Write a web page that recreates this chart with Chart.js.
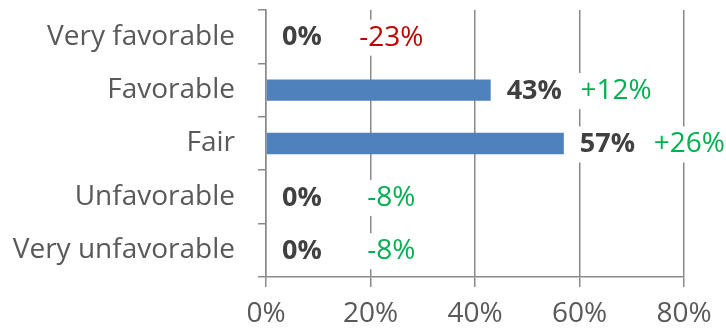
<!DOCTYPE html>
<html>
<head>
<meta charset="utf-8">
<script src="https://cdn.jsdelivr.net/npm/chart.js@4"></script>
<style>
  html, body { margin: 0; padding: 0; background: #fff; }
  #wrap { width: 726px; height: 330px; }
</style>
</head>
<body>
<div id="wrap"><canvas id="myChart"></canvas></div>
<script>
const categories = ['Very favorable', 'Favorable', 'Fair', 'Unfavorable', 'Very unfavorable'];
const values = [0, 43, 57, 0, 0];
const changes = ['-23%', '+12%', '+26%', '-8%', '-8%'];
const changeColors = ['#C00000', '#00B050', '#00B050', '#00B050', '#00B050'];
const xTicks = [0, 20, 40, 60, 80];

const FONT = '"Open Sans", "Liberation Sans", Arial, sans-serif';
const GRID = '#8a8a8a';

// value + change labels, each on a white box that hides the gridlines
const barLabels = {
  id: 'barLabels',
  afterDatasetsDraw(chart) {
    const ctx = chart.ctx;
    const x = chart.scales.x;
    const bars = chart.getDatasetMeta(0).data;
    ctx.save();
    ctx.textBaseline = 'middle';
    ctx.textAlign = 'left';
    bars.forEach((bar, i) => {
      const y = bar.y + 1;
      // value label
      ctx.font = 'bold 27px ' + FONT;
      const txt = values[i] + '%';
      const w = ctx.measureText(txt).width;
      const lx = bar.x + 16;
      ctx.fillStyle = '#fff';
      ctx.fillRect(lx - 3, y - 18, w + 6, 36);
      ctx.fillStyle = '#404040';
      ctx.fillText(txt, lx, y);
      // change label
      ctx.font = '28px ' + FONT;
      const cw = ctx.measureText(changes[i]).width;
      const cx = x.getPixelForValue(values[i] + 24) - cw / 2;
      ctx.fillStyle = '#fff';
      ctx.fillRect(cx - 3, y - 18, cw + 6, 36);
      ctx.fillStyle = changeColors[i];
      ctx.fillText(changes[i], cx, y);
    });
    ctx.restore();
  }
};

const myChart = new Chart(document.getElementById('myChart'), {
  type: 'bar',
  data: {
    labels: categories,
    datasets: [
      {
        data: values,
        backgroundColor: '#4F81BD',
        borderWidth: 0,
        barPercentage: 0.4,
        categoryPercentage: 1,
      },
    ],
  },
  options: {
    indexAxis: 'y',
    responsive: true,
    maintainAspectRatio: false,
    animation: false,
    layout: { padding: { top: 10, right: 42, left: 0, bottom: 0 } },
    plugins: {
      legend: { display: false },
      tooltip: { enabled: false },
    },
    scales: {
      x: {
        min: 0,
        max: 80,
        afterBuildTicks: (scale) => {
          scale.ticks = xTicks.map((v) => ({ value: v }));
        },
        afterFit: (scale) => { scale.height = 53; },
        grid: {
          color: GRID,
          lineWidth: 1.5,
          drawTicks: true,
          tickLength: 10,
        },
        border: { color: GRID, width: 1.5 },
        ticks: {
          color: '#595959',
          font: { family: FONT, size: 28 },
          padding: 10,
          callback: (v) => v + '%',
        },
      },
      y: {
        afterFit: (scale) => {
          scale.width = 266;
          scale.paddingTop = 0;
          scale.paddingBottom = 0;
        },
        grid: {
          offset: true,
          drawOnChartArea: false,
          drawTicks: true,
          tickLength: 8,
          color: GRID,
          lineWidth: 1.5,
        },
        border: { color: GRID, width: 1.5 },
        ticks: {
          color: '#595959',
          font: { family: FONT, size: 28 },
          padding: 23,
        },
      },
    },
  },
  plugins: [barLabels],
});
</script>
</body>
</html>
